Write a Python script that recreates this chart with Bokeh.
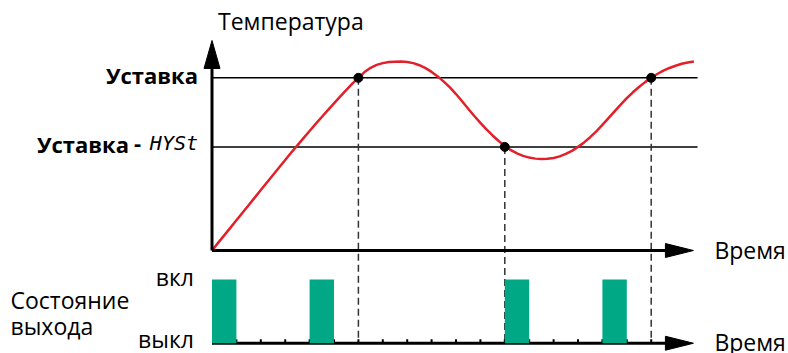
from bokeh.plotting import figure
from bokeh.models import Range1d
from bokeh.core.properties import value
from bokeh.embed import file_html
from bokeh.resources import INLINE

# --- data (time in ticks, temperature in arbitrary units) ---
curve_t = [0, 0.25, 0.5, 0.75, 1.0, 1.25, 1.5, 1.75, 2.0, 2.25, 2.5, 2.75, 3.0, 3.25,
           3.5, 3.75, 4.0, 4.25, 4.5, 4.75, 5.0, 5.25, 5.5, 5.75, 6.0, 6.25, 6.5, 6.75,
           7.0, 7.25, 7.5, 7.75, 8.0, 8.25, 8.5, 8.75, 9.0, 9.25, 9.5, 9.75, 10.0, 10.25,
           10.5, 10.75, 11.0, 11.25, 11.5, 11.75, 12.0, 12.25, 12.5, 12.75, 13.0, 13.25,
           13.5, 13.75, 14.0, 14.25, 14.5, 14.75, 15.0, 15.25, 15.5, 15.75, 16.0, 16.25,
           16.5, 16.75, 17.0, 17.25, 17.5, 17.75, 18.0, 18.25, 18.5, 18.75, 19.0, 19.25,
           19.5, 19.75]
curve_temp = [0, 0.44, 0.875, 1.31, 1.75, 2.19, 2.625, 3.06, 3.5, 3.94, 4.37, 4.81, 5.24, 5.67,
              6.09, 6.51, 6.92, 7.33, 7.73, 8.13, 8.52, 8.91, 9.29, 9.66, 10.0, 10.33, 10.58, 10.75,
              10.85, 10.91, 10.935, 10.94, 10.92, 10.85, 10.73, 10.56, 10.34, 10.08, 9.78, 9.44, 9.06, 8.64,
              8.21, 7.79, 7.39, 7.01, 6.66, 6.34, 6.05, 5.81, 5.62, 5.48, 5.38, 5.32,
              5.30, 5.31, 5.36, 5.45, 5.59, 5.77, 6.0, 6.26, 6.56, 6.90, 7.27, 7.66,
              8.06, 8.45, 8.82, 9.16, 9.47, 9.75, 10.0, 10.22, 10.41, 10.57, 10.70, 10.81,
              10.89, 10.94]

setpoint = 10
hyst = 4
switch_t = [6, 12, 18]
switch_temp = [10, 6, 10]
on_start = [0, 4, 12, 16]
on_end = [1, 5, 13, 17]
tick_t = [1, 2, 3, 4, 5, 6, 7, 8, 9, 10, 11, 12, 13, 14, 15, 16, 17, 18]

time_axis_end = 19.73
temp_axis_end = 12.16
ref_line_end = 19.9

# output-state lane placed below the temperature axis (in temperature units)
STATE_BASE = -5.37
STATE_HEIGHT = 3.69

# pixel scale of the two data axes
PX_T = 24.4
PX_TEMP = 17.27

FONT = value("Open Sans")

p = figure(width=788, height=353, output_backend="svg", toolbar_location=None,
           x_range=Range1d(-211.5 / PX_T, (788 - 211.5) / PX_T),
           y_range=Range1d(-103 / PX_TEMP, 250 / PX_TEMP),
           x_axis_location=None, y_axis_location=None,
           min_border=0, min_border_left=0, min_border_right=0,
           min_border_top=0, min_border_bottom=0)
p.outline_line_color = None
p.grid.visible = False
p.background_fill_color = "white"

# setpoint and setpoint-hysteresis levels
p.segment(x0=[0, 0], y0=[setpoint, setpoint - hyst], x1=[ref_line_end] * 2,
          y1=[setpoint, setpoint - hyst], line_color="black", line_width=1.5)

# dashed drops from switching points to the output lane
p.segment(x0=switch_t, y0=switch_temp, x1=switch_t, y1=[STATE_BASE] * len(switch_t),
          line_color="#333333", line_width=1.5, line_dash="7 4")

# temperature curve
p.line(curve_t, curve_temp, line_color="#E3202A", line_width=2.5, line_join="round")

# axes with arrow heads
head_len_t = 28 / PX_T
head_half_temp = 7 / PX_TEMP
head_len_temp = 28 / PX_TEMP
head_half_t = 8 / PX_T

for base in (0, STATE_BASE):
    p.line([0, time_axis_end - head_len_t], [base, base], line_color="black", line_width=3)
    p.patch([time_axis_end - head_len_t, time_axis_end, time_axis_end - head_len_t],
            [base - head_half_temp, base, base + head_half_temp],
            fill_color="black", line_color="black")
p.line([0, 0], [0, temp_axis_end - head_len_temp], line_color="black", line_width=3)
p.patch([-head_half_t, 0, head_half_t],
        [temp_axis_end - head_len_temp, temp_axis_end, temp_axis_end - head_len_temp],
        fill_color="black", line_color="black")

# switching points
p.scatter(switch_t, switch_temp, size=9, color="black")

# ticks of the output time axis
p.segment(x0=tick_t, y0=[STATE_BASE] * len(tick_t), x1=tick_t,
          y1=[STATE_BASE + 4 / PX_TEMP] * len(tick_t), line_color="black", line_width=2)

# output "on" intervals
p.quad(left=on_start, right=on_end, bottom=[STATE_BASE] * len(on_start),
       top=[STATE_BASE + STATE_HEIGHT] * len(on_start),
       fill_color="#00A886", line_color=None)

# labels
def label(x, y, txt, size="23px", align="left", xo=0, yo=0, style="normal",
          font=FONT, baseline="alphabetic"):
    p.text(x=[x], y=[y], text=[txt], x_offset=xo, y_offset=yo, text_align=align,
           text_baseline=baseline, text_font=font, text_font_size=size,
           text_font_style=style, text_color="black")

label(0, temp_axis_end, "Температура", xo=6, yo=-19)
label(time_axis_end, 0, "Время", xo=21, yo=-1)
label(time_axis_end, STATE_BASE, "Время", xo=21, yo=-1)
label(0, setpoint, "Уставка", size="22px", align="right", xo=-14, yo=-3, style="bold")
label(0, setpoint - hyst, "HYSt", size="20px", align="right", xo=-14, yo=-4,
      style="italic", font=value("DejaVu Sans Mono"))
label(0, setpoint - hyst, "-", size="22px", align="right", xo=-71, yo=-3, style="bold")
label(0, setpoint - hyst, "Уставка", size="22px", align="right", xo=-83, yo=-3, style="bold")
label(0, STATE_BASE + STATE_HEIGHT, "вкл", align="right", xo=-18, yo=-3)
label(0, STATE_BASE, "выкл", align="right", xo=-18, yo=-4)
label(-201.5 / PX_T, STATE_BASE + 31 / PX_TEMP, "Состояние", yo=-12)
label(-201.5 / PX_T, STATE_BASE + 5.5 / PX_TEMP, "выхода", yo=-12)

open("out.html", "w").write(file_html(p, INLINE))
